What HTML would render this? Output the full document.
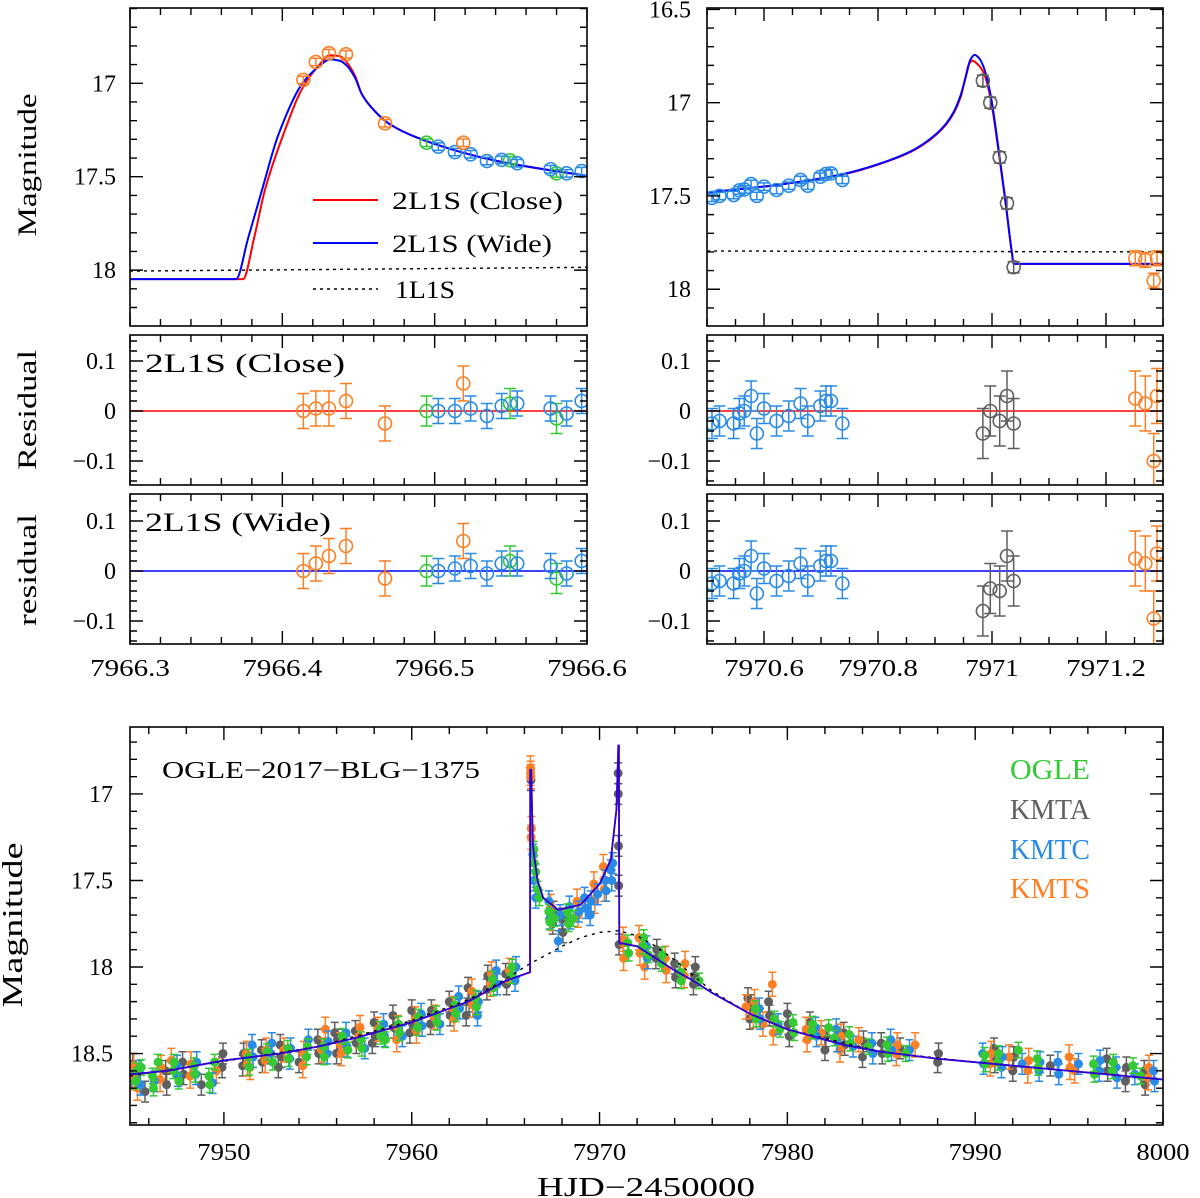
<!DOCTYPE html>
<html><head><meta charset="utf-8"><title>OGLE-2017-BLG-1375</title>
<style>html,body{margin:0;padding:0;background:#fff;}svg{display:block;font-family:"Liberation Serif","DejaVu Serif",serif;}</style>
</head><body>
<svg id="fig" width="1200" height="1198" viewBox="0 0 1200 1198" xmlns="http://www.w3.org/2000/svg"></svg>
<script>
// ---------- DATA ----------
const tlOgle = [[7966.4947,17.318],[7966.5495,17.412],[7966.58,17.482]];
const tlKmtc = [[7966.5024,17.339],[7966.5133,17.368],[7966.5236,17.38],[7966.5343,17.416],[7966.544,17.41],[7966.5542,17.428],[7966.5761,17.46],[7966.5866,17.482],[7966.5965,17.47]];
const tlKmts = [[7966.4138,16.982],[7966.422,16.886],[7966.4306,16.839],[7966.4418,16.845],[7966.4674,17.214],[7966.5188,17.318]];
const tlResCloseOgle = [0,0.015,-0.015];
const tlResCloseKmtc = [0,0,0.005,-0.01,0.01,0.015,0.005,-0.005,0.02];
const tlResCloseKmts = [0,0.005,0.005,0.02,-0.025,0.055];
const tlResWideOgle = [0,0.02,-0.015];
const tlResWideKmtc = [0,0.005,0.01,-0.005,0.015,0.015,0.01,-0.005,0.02];
const tlResWideKmts = [0,0.015,0.03,0.05,-0.015,0.06];
const tlModelClose = [[7966.3,18.048],[7966.3742,18.048],[7966.3814,17.83],[7966.3886,17.57],[7966.4004,17.28],[7966.4136,17.02],[7966.4234,16.91],[7966.4313,16.85],[7966.4379,16.855],[7966.4425,16.89],[7966.4477,16.96],[7966.4523,17.06],[7966.4608,17.15],[7966.4707,17.22],[7966.4969,17.316],[7966.5409,17.416],[7966.6,17.496]];
const tlModelWide = [[7966.3,18.048],[7966.3696,18.048],[7966.3775,17.83],[7966.3867,17.57],[7966.3972,17.28],[7966.4136,16.995],[7966.4234,16.914],[7966.4313,16.872],[7966.4379,16.88],[7966.4425,16.907],[7966.4477,16.97],[7966.4523,17.06],[7966.4608,17.15],[7966.4707,17.22],[7966.4969,17.316],[7966.5409,17.416],[7966.6,17.496]];
const tl1L1S = [[7966.3,18.005],[7966.6,17.985]];
const trKmtcT = [7970.5087,7970.522,7970.5467,7970.5567,7970.5654,7970.5774,7970.5874,7970.6,7970.622,7970.6434,7970.6641,7970.6768,7970.6988,7970.7088,7970.7175,7970.7375];
const trKmtcM = [17.51,17.50,17.495,17.47,17.465,17.436,17.5,17.45,17.468,17.445,17.414,17.445,17.397,17.382,17.379,17.414];
const trKmtaT = [7970.984,7970.997,7971.0135,7971.0263,7971.038];
const trKmtaM = [16.882,17.0,17.293,17.539,17.882];
const trKmtsT = [7971.2514,7971.269,7971.2837,7971.2895];
const trKmtsM = [17.834,17.843,17.954,17.834];
const trResCloseKmtc = [-0.025,-0.02,-0.025,-0.005,0,0.03,-0.045,0.005,-0.02,-0.01,0.015,-0.02,0.01,0.02,0.02,-0.025];
const trResCloseKmta = [-0.045,0,-0.02,0.03,-0.025];
const trResCloseKmts = [0.025,0.015,-0.1,0.03];
const trResWideKmtc = [-0.025,-0.02,-0.025,-0.005,0,0.03,-0.045,0.005,-0.02,-0.01,0.015,-0.02,0.01,0.02,0.02,-0.025];
const trResWideKmta = [-0.08,-0.035,-0.04,0.03,-0.02];
const trResWideKmts = [0.025,0.015,-0.095,0.035];
const trModelWide = [[7970.5,17.482],[7970.6228,17.441],[7970.7398,17.382],[7970.80,17.33],[7970.8567,17.262],[7970.88,17.22],[7970.9035,17.164],[7970.92,17.11],[7970.9328,17.05],[7970.945,16.96],[7970.955,16.85],[7970.962,16.77],[7970.9696,16.744],[7970.977,16.76],[7970.9854,16.81],[7970.997,16.95],[7971.0117,17.253],[7971.0234,17.521],[7971.035,17.807],[7971.038,17.864],[7971.3,17.864]];
const trModelClose = [[7970.5,17.482],[7970.6228,17.441],[7970.7398,17.384],[7970.80,17.332],[7970.8567,17.265],[7970.88,17.224],[7970.9035,17.168],[7970.92,17.115],[7970.9328,17.056],[7970.945,16.97],[7970.953,16.87],[7970.96,16.79],[7970.966,16.775],[7970.975,16.795],[7970.9854,16.84],[7970.997,16.97],[7971.0117,17.265],[7971.0234,17.53],[7971.035,17.807],[7971.038,17.864],[7971.3,17.864]];
const tr1L1S = [[7970.5,17.795],[7971.3,17.8]];
const bOgle = [[7945.3,18.66],[7945.6,18.58],[7946.2,18.63],[7946.5,18.55],[7947.3,18.60],[7947.6,18.66],[7948.4,18.57],[7949.2,18.63],[7949.5,18.55],[7951.3,18.52],[7952.3,18.49],[7952.6,18.55],[7953.4,18.47],[7954.4,18.52],[7955.3,18.46],[7956.3,18.40],[7956.6,18.48],[7957.3,18.42],[7958.3,18.36],[7958.6,18.42],[7959.3,18.33],[7960.3,18.35],[7961.3,18.27],[7962.3,18.22],[7963.4,18.18],[7964.3,18.07],[7965.3,18.05],[7966.5,17.32],[7966.6,17.45],[7966.8,17.6],[7967.3,17.68],[7967.6,17.72],[7968.3,17.68],[7968.6,17.72],[7971.5,17.86],[7972.3,17.88],[7972.6,17.93],[7973.3,17.98],[7974.3,18.03],[7975.3,18.08],[7978.3,18.24],[7979.3,18.3],[7979.6,18.36],[7980.3,18.32],[7981.3,18.37],[7982.2,18.35],[7982.5,18.41],[7983.3,18.39],[7984.3,18.46],[7985.3,18.45],[7986.3,18.5],[7990.5,18.51],[7991.2,18.55],[7992.3,18.48],[7993.3,18.53],[7996.3,18.56],[7997.3,18.6],[7998.4,18.57],[7998.8,18.63],
[7945.35,18.6],[7946.25,18.7],[7947.35,18.55],[7948.45,18.62],[7949.25,18.68],[7951.35,18.58],[7953.45,18.53],[7954.45,18.46],[7955.35,18.52],[7957.35,18.47],[7958.35,18.4],[7959.35,18.38],[7960.35,18.29],[7961.35,18.32],[7962.35,18.27],[7963.45,18.23],[7964.35,18.12],[7965.35,18.0],[7966.52,17.4],[7966.7,17.55],[7967.35,17.74],[7968.35,17.75],[7971.55,17.92],[7972.35,17.83],[7973.35,17.93],[7974.35,18.08],[7978.35,18.3],[7980.35,18.38],[7981.35,18.33],[7983.35,18.44],[7985.35,18.5],[7990.55,18.56],[7991.25,18.5],[7993.35,18.58],[7996.35,18.62],[7997.35,18.55]];
const bKmta = [[7945.1,18.64],[7945.8,18.72],[7946.9,18.60],[7947.8,18.55],[7948.8,18.68],[7949.9,18.58],[7951.0,18.57],[7952.0,18.48],[7952.9,18.58],[7953.0,18.45],[7954.0,18.55],[7955.0,18.42],[7955.9,18.38],[7956.0,18.5],[7957.0,18.37],[7957.9,18.44],[7958.0,18.32],[7959.0,18.28],[7959.9,18.38],[7960.0,18.25],[7961.0,18.33],[7962.0,18.2],[7962.9,18.28],[7963.0,18.12],[7964.0,18.13],[7965.0,18.04],[7966.35,16.92],[7967.5,17.75],[7968.0,17.72],[7970.99,16.88],[7970.997,17.0],[7971.01,17.3],[7971.02,17.53],[7971.04,17.87],[7973.0,17.95],[7974.0,17.98],[7975.0,18.1],[7975.1,18.0],[7977.9,18.18],[7978.0,18.3],[7979.0,18.2],[7980.0,18.27],[7980.1,18.4],[7981.2,18.32],[7982.0,18.48],[7983.0,18.38],[7984.0,18.52],[7985.0,18.44],[7986.0,18.47],[7988.0,18.55],[7991.0,18.47],[7992.0,18.6],[7994.0,18.57],[7997.0,18.53],[7998.0,18.66],[7999.0,18.6],
[7945.15,18.56],[7946.95,18.68],[7947.85,18.62],[7949.95,18.5],[7951.05,18.5],[7952.05,18.55],[7953.05,18.52],[7955.05,18.5],[7956.05,18.42],[7957.05,18.44],[7958.05,18.4],[7959.05,18.35],[7960.05,18.33],[7961.05,18.25],[7962.05,18.28],[7963.05,18.2],[7964.05,18.05],[7965.05,18.1],[7967.55,17.68],[7968.05,17.8],[7973.05,17.9],[7974.05,18.06],[7975.05,18.05],[7978.05,18.22],[7979.05,18.28],[7980.05,18.33],[7982.05,18.4],[7983.05,18.45],[7984.05,18.43],[7985.05,18.5],[7988.05,18.5],[7991.05,18.55],[7992.05,18.52],[7997.05,18.6],[7998.05,18.58],[7999.05,18.68]];
const bKmtc = [[7945.5,18.6],[7946.3,18.66],[7947.5,18.57],[7948.5,18.62],[7949.4,18.67],[7951.5,18.45],[7952.5,18.5],[7953.5,18.53],[7954.5,18.42],[7955.5,18.5],[7956.5,18.38],[7957.5,18.47],[7958.5,18.33],[7959.5,18.4],[7960.5,18.27],[7961.5,18.33],[7962.5,18.17],[7963.5,18.28],[7964.5,18.02],[7965.5,18.08],[7966.45,17.35],[7967.3,17.62],[7967.8,17.85],[7968.4,17.65],[7969.2,17.6],[7969.5,17.7],[7970.3,17.5],[7970.6,17.44],[7970.7,17.4],[7972.5,17.88],[7978.5,18.24],[7979.5,18.33],[7981.5,18.35],[7982.6,18.36],[7983.5,18.46],[7984.5,18.44],[7985.5,18.42],[7986.5,18.48],[7990.4,18.5],[7991.4,18.58],[7992.5,18.56],[7993.4,18.6],[7994.4,18.55],[7995.5,18.56],[7996.6,18.6],[7997.5,18.58],[7998.5,18.62],[7999.5,18.6],
[7945.55,18.68],[7947.55,18.63],[7948.55,18.55],[7951.55,18.52],[7952.55,18.44],[7953.55,18.47],[7955.55,18.43],[7956.55,18.46],[7958.55,18.4],[7960.55,18.34],[7962.55,18.24],[7963.55,18.2],[7964.55,18.1],[7965.55,18.0],[7966.5,17.5],[7966.6,17.6],[7967.35,17.72],[7967.9,17.7],[7968.45,17.72],[7968.9,17.68],[7969.25,17.66],[7969.55,17.62],[7969.9,17.58],[7970.35,17.56],[7970.65,17.5],[7972.55,17.95],[7978.55,18.3],[7981.55,18.4],[7982.65,18.43],[7984.55,18.5],[7985.55,18.48],[7990.45,18.56],[7991.45,18.52],[7993.45,18.55],[7994.45,18.62],[7996.65,18.54],[7997.55,18.64],[7999.55,18.66]];
const bKmts = [[7945.2,18.57],[7945.4,18.7],[7946.6,18.65],[7947.2,18.54],[7948.2,18.63],[7949.6,18.6],[7951.2,18.5],[7951.4,18.58],[7952.2,18.54],[7953.2,18.48],[7954.2,18.57],[7955.2,18.48],[7955.4,18.36],[7956.2,18.45],[7957.2,18.4],[7958.2,18.36],[7959.2,18.42],[7960.2,18.3],[7961.2,18.29],[7962.2,18.24],[7963.2,18.14],[7964.2,18.1],[7965.2,18.02],[7966.32,16.85],[7966.34,16.9],[7966.37,17.2],[7967.4,17.65],[7968.8,17.62],[7969.7,17.52],[7970.2,17.42],[7971.25,17.84],[7971.28,17.95],[7972.1,17.83],[7972.4,18.0],[7973.5,17.95],[7974.5,18.05],[7977.8,18.23],[7978.2,18.28],[7978.7,18.33],[7979.2,18.1],[7981.0,18.36],[7981.8,18.38],[7982.8,18.48],[7983.8,18.42],[7985.8,18.5],[7986.8,18.45],[7990.8,18.56],[7991.8,18.52],[7992.8,18.6],[7995.0,18.52],[7995.3,18.6],[7999.2,18.64],
[7945.25,18.64],[7946.65,18.58],[7948.25,18.56],[7951.25,18.56],[7952.25,18.48],[7954.25,18.5],[7956.25,18.5],[7957.25,18.35],[7959.25,18.35],[7960.25,18.37],[7962.25,18.3],[7963.25,18.22],[7964.25,18.04],[7966.33,16.88],[7966.36,17.25],[7967.45,17.72],[7968.85,17.7],[7969.75,17.62],[7970.25,17.55],[7972.15,17.92],[7973.55,18.02],[7974.55,17.98],[7978.25,18.2],[7979.25,18.38],[7981.05,18.42],[7982.85,18.4],[7985.85,18.45],[7990.85,18.5],[7992.85,18.54],[7995.05,18.58],[7999.25,18.58]];
const bModel = [[7945,18.62],[7947,18.6],[7950,18.54],[7953,18.5],[7955,18.46],[7957,18.41],[7960,18.32],[7962,18.24],[7963,18.2],[7964,18.14],[7965,18.08],[7966.3,18.03],[7966.31,16.86],[7966.36,16.86],[7966.45,17.3],[7966.7,17.5],[7967,17.6],[7967.8,17.67],[7969,17.64],[7970,17.52],[7970.6,17.38],[7970.9,17.09],[7971.0,16.72],[7971.03,16.72],[7971.05,17.86],[7972,17.88],[7973,17.95],[7974,18.02],[7975,18.08],[7976,18.15],[7978,18.27],[7980,18.36],[7981,18.39],[7983,18.45],[7985,18.49],[7988,18.53],[7990,18.55],[7995,18.6],[8000,18.65]];
const b1L1S = [[7945,18.63],[7955,18.46],[7960,18.31],[7963,18.19],[7965,18.07],[7966.3,17.98],[7967,17.94],[7968,17.88],[7969,17.83],[7970,17.8],[7971,17.79],[7972,17.82],[7973,17.88],[7974,17.96],[7975,18.05],[7976,18.14],[7978,18.27],[7980,18.36],[7985,18.49],[7990,18.55],[7995,18.6],[8000,18.65]];
const tlXLabels = ["7966.3","7966.4","7966.5","7966.6"];
const tlXVals = [7966.3,7966.4,7966.5,7966.6];
const trXLabels = ["7970.6","7970.8","7971","7971.2"];
const trXVals = [7970.6,7970.8,7971,7971.2];
const tlYVals = [17,17.5,18];
const tlYLabels = ["17","17.5","18"];
const trYVals = [16.5,17,17.5,18];
const trYLabels = ["16.5","17","17.5","18"];
const resYVals = [0.1,0,-0.1];
const resYLabels = ["0.1","0","\u22120.1"];
const bXVals = [7950,7960,7970,7980,7990,8000];
const bXLabels = ["7950","7960","7970","7980","7990","8000"];
const bYVals = [17,17.5,18,18.5];
const bYLabels = ["17","17.5","18","18.5"];

// ---------- DRAWING ----------
const NS='http://www.w3.org/2000/svg';
const svg=document.getElementById('fig');
const C={ogle:'#35c935',kmta:'#5f5f5f',kmtc:'#2a8be6',kmts:'#ff7f24',red:'#ff0000',blue:'#0000ff'};
function mk(tag,parent){const e=document.createElementNS(NS,tag);parent.appendChild(e);return e;}
function set(e,k,v){e.setAttribute(k,v);}
let clipN=0;
function panel(p,name){
  p.x=t=>p.x0+(t-p.t0)/(p.t1-p.t0)*(p.x1-p.x0);
  p.y=m=>p.y0+(m-p.m0)/(p.m1-p.m0)*(p.y1-p.y0);
  const g=mk('g',svg);
  
  
  const cp=mk('clipPath',g);set(cp,'id','cp'+(++clipN));
  const r=mk('rect',cp);set(r,'x',p.x0);set(r,'y',p.y0);set(r,'width',p.x1-p.x0);set(r,'height',p.y1-p.y0);
  p.g=g;
  p.plot=mk('g',g);set(p.plot,'clip-path','url(#cp'+clipN+')');
  
  
  return p;
}
function frame(p,xMinor,xMajor,yMinor,yMajor){
  const g=mk('g',p.g);
  
  
  const f=mk('rect',g);set(f,'x',p.x0);set(f,'y',p.y0);set(f,'width',p.x1-p.x0);set(f,'height',p.y1-p.y0);set(f,'fill','none');set(f,'stroke','#000');set(f,'stroke-width',1.6);
  let d='';
  const lo=Math.min(p.t0,p.t1),hi=Math.max(p.t0,p.t1);
  for(let k=Math.ceil(lo/xMinor-1e-6);k*xMinor<=hi+1e-9;k++){const v=k*xMinor;const maj=Math.abs(v/xMajor-Math.round(v/xMajor))<1e-4;const L=maj?13:7;const x=p.x(v);d+=`M${x},${p.y1}v${-L}M${x},${p.y0}v${L}`;}
  const ylo=Math.min(p.m0,p.m1),yhi=Math.max(p.m0,p.m1);
  for(let k=Math.ceil(ylo/yMinor-1e-6);k*yMinor<=yhi+1e-9;k++){const v=k*yMinor;const maj=Math.abs(v/yMajor-Math.round(v/yMajor))<1e-4;const L=maj?13:7;const y=p.y(v);d+=`M${p.x0},${y}h${L}M${p.x1},${y}h${-L}`;}
  const pa=mk('path',g);set(pa,'d',d);set(pa,'stroke','#000');set(pa,'stroke-width',1.4);set(pa,'fill','none');
}
function text(parent,x,y,str,size,anchor,fill,len){
  const t=mk('text',parent);set(t,'x',x);set(t,'y',y);set(t,'font-size',size);set(t,'text-anchor',anchor||'start');set(t,'fill',fill||'#000');
  if(len){set(t,'textLength',len);set(t,'lengthAdjust','spacingAndGlyphs');}
  t.textContent=str;return t;
}
function yLabels(p,vals,labels,xr){
  for(let i=0;i<vals.length;i++){
    const t=text(p.g,xr,p.y(vals[i])+8,labels[i],24,'end');
    
    
  }
}
function xLabels(p,vals,labels,y){
  for(let i=0;i<vals.length;i++){
    const t=text(p.g,p.x(vals[i]),y,labels[i],24,'middle',null,labels[i].length*13.3);
    
    
  }
}
function line(p,pts,color,w,dash,name,smooth){
  const pa=mk('path',p.plot);
  
  
  const X=pts.map(q=>p.x(q[0])),Y=pts.map(q=>p.y(q[1]));
  const n=X.length;
  let d='M'+X[0].toFixed(2)+','+Y[0].toFixed(2);
  if(smooth&&n>2){
    // monotone cubic (Fritsch-Carlson style) to avoid overshoot
    const h=[],s=[];
    for(let i=0;i<n-1;i++){h.push(X[i+1]-X[i]);s.push((Y[i+1]-Y[i])/(X[i+1]-X[i]));}
    const m=new Array(n);
    m[0]=s[0];m[n-1]=s[n-2];
    for(let i=1;i<n-1;i++){
      if(s[i-1]*s[i]<=0)m[i]=0;
      else m[i]=3*(h[i-1]+h[i])/((2*h[i]+h[i-1])/s[i-1]+(h[i]+2*h[i-1])/s[i]);
    }
    if(s[0]===0)m[0]=0;if(s[n-2]===0)m[n-1]=0;
    for(let i=0;i<n-1;i++){
      const c1x=X[i]+h[i]/3,c1y=Y[i]+m[i]*h[i]/3,c2x=X[i+1]-h[i]/3,c2y=Y[i+1]-m[i+1]*h[i]/3;
      d+=`C${c1x.toFixed(2)},${c1y.toFixed(2)} ${c2x.toFixed(2)},${c2y.toFixed(2)} ${X[i+1].toFixed(2)},${Y[i+1].toFixed(2)}`;
    }
  } else {
    for(let i=1;i<n;i++)d+='L'+X[i].toFixed(2)+','+Y[i].toFixed(2);
  }
  set(pa,'d',d);
  set(pa,'fill','none');set(pa,'stroke',color);set(pa,'stroke-width',w);
  if(dash)set(pa,'stroke-dasharray',dash);
}
function point(p,t,m,err,color,filled,r,cap,name){
  const g=mk('g',p.plot);
  
  
  const x=p.x(t),y1=p.y(m-err),y2=p.y(m+err),y=p.y(m);
  const e=mk('path',g);set(e,'d',`M${x},${y1}V${y2}M${x-cap},${y1}h${2*cap}M${x-cap},${y2}h${2*cap}`);set(e,'stroke',color);set(e,'stroke-width',1.5);set(e,'fill','none');
  const c=mk('circle',g);set(c,'cx',x);set(c,'cy',y);set(c,'r',r);
  if(filled){set(c,'fill',color);}else{set(c,'fill','none');set(c,'stroke',color);set(c,'stroke-width',1.6);}
}
function pairs(p,arr,err,color,filled,r,cap,name){arr.forEach(q=>point(p,q[0],q[1],err,color,filled,r,cap,name));}
function lists(p,ts,ms,err,color,r,cap,name){ts.forEach((t,i)=>point(p,t,ms[i],err,color,false,r,cap,name));}

const PL=panel({x0:130,x1:587,y0:8,y1:326,t0:7966.3,t1:7966.6,m0:16.597,m1:18.299},'top-left-magnitude-panel');
line(PL,tl1L1S,'#000',1.4,'3,4','model-1l1s-line');
line(PL,tlModelClose,C.red,2,null,'model-close-line',true);
line(PL,tlModelWide,C.blue,2,null,'model-wide-line',true);
pairs(PL,tlOgle,0.02,C.ogle,false,6.5,6,'ogle-point');
pairs(PL,tlKmtc,0.02,C.kmtc,false,6.5,6,'kmtc-point');
pairs(PL,tlKmts,0.02,C.kmts,false,6.5,6,'kmts-point');
frame(PL,0.02,0.1,0.1,0.5);
yLabels(PL,tlYVals,tlYLabels,116);
(function(){
  const g=mk('g',svg);
  
  
  const items=[[200,C.red,null,'2L1S (Close)',392,171],[243,C.blue,null,'2L1S (Wide)',392,160],[289,'#000','3,4','1L1S',395,60]];
  items.forEach(it=>{
    const l=mk('line',g);set(l,'x1',313);set(l,'x2',378);set(l,'y1',it[0]);set(l,'y2',it[0]);set(l,'stroke',it[1]);set(l,'stroke-width',it[2]?1.4:2);if(it[2])set(l,'stroke-dasharray',it[2]);
    
    
    const t=text(g,it[4],it[0]+9,it[3],25,'start',null,it[5]);
    
    
  });
})();

const PR=panel({x0:707,x1:1163,y0:8,y1:326,t0:7970.5,t1:7971.3,m0:16.4925,m1:18.197},'top-right-magnitude-panel');
line(PR,tr1L1S,'#000',1.4,'3,4','model-1l1s-line');
line(PR,trModelClose,C.red,2,null,'model-close-line',true);
line(PR,trModelWide,C.blue,2,null,'model-wide-line',true);
lists(PR,trKmtcT,trKmtcM,0.02,C.kmtc,6.5,6,'kmtc-point');
lists(PR,trKmtaT,trKmtaM,0.03,C.kmta,6.5,6,'kmta-point');
lists(PR,trKmtsT,trKmtsM,0.04,C.kmts,6.5,6,'kmts-point');
frame(PR,0.05,0.2,0.1,0.5);
yLabels(PR,trYVals,trYLabels,691);

function resPanel(p,name,color,sets,lbl,lblLen){
  panel(p,name);
  const z=mk('line',p.plot);set(z,'x1',p.x0);set(z,'x2',p.x1);set(z,'y1',p.y(0));set(z,'y2',p.y(0));set(z,'stroke',color);set(z,'stroke-width',1.6);
  
  
  sets.forEach(s=>{s.t.forEach((t,i)=>point(p,t,s.r[i],s.e,s.c,false,6.5,6,s.n));});
  frame(p,p.xminor,p.xmajor,0.02,0.1);
  if(lbl){const t=text(p.g,145,p.y0+37,lbl,26,'start',null,lblLen);
    
    }
  return p;
}
const tlOT=tlOgle.map(q=>q[0]),tlCT=tlKmtc.map(q=>q[0]),tlST=tlKmts.map(q=>q[0]);
const RL1=resPanel({x0:130,x1:587,y0:335,y1:485,t0:7966.3,t1:7966.6,m0:0.152,m1:-0.148,xminor:0.02,xmajor:0.1},'top-left-close-residual-panel',C.red,
  [{t:tlOT,r:tlResCloseOgle,e:0.03,c:C.ogle,n:'ogle-residual'},{t:tlCT,r:tlResCloseKmtc,e:0.025,c:C.kmtc,n:'kmtc-residual'},{t:tlST,r:tlResCloseKmts,e:0.035,c:C.kmts,n:'kmts-residual'}],'2L1S (Close)',200);
const RL2=resPanel({x0:130,x1:587,y0:494,y1:644,t0:7966.3,t1:7966.6,m0:0.154,m1:-0.146,xminor:0.02,xmajor:0.1},'top-left-wide-residual-panel',C.blue,
  [{t:tlOT,r:tlResWideOgle,e:0.03,c:C.ogle,n:'ogle-residual'},{t:tlCT,r:tlResWideKmtc,e:0.025,c:C.kmtc,n:'kmtc-residual'},{t:tlST,r:tlResWideKmts,e:0.035,c:C.kmts,n:'kmts-residual'}],'2L1S (Wide)',186);
const RR1=resPanel({x0:707,x1:1163,y0:335,y1:485,t0:7970.5,t1:7971.3,m0:0.152,m1:-0.148,xminor:0.05,xmajor:0.2},'top-right-close-residual-panel',C.red,
  [{t:trKmtcT,r:trResCloseKmtc,e:0.03,c:C.kmtc,n:'kmtc-residual'},{t:trKmtaT,r:trResCloseKmta,e:0.05,c:C.kmta,n:'kmta-residual'},{t:trKmtsT,r:trResCloseKmts,e:0.055,c:C.kmts,n:'kmts-residual'}],null);
const RR2=resPanel({x0:707,x1:1163,y0:494,y1:644,t0:7970.5,t1:7971.3,m0:0.154,m1:-0.146,xminor:0.05,xmajor:0.2},'top-right-wide-residual-panel',C.blue,
  [{t:trKmtcT,r:trResWideKmtc,e:0.03,c:C.kmtc,n:'kmtc-residual'},{t:trKmtaT,r:trResWideKmta,e:0.05,c:C.kmta,n:'kmta-residual'},{t:trKmtsT,r:trResWideKmts,e:0.055,c:C.kmts,n:'kmts-residual'}],null);
yLabels(RL1,resYVals,resYLabels,116);yLabels(RL2,resYVals,resYLabels,116);
yLabels(RR1,resYVals,resYLabels,691);yLabels(RR2,resYVals,resYLabels,691);
xLabels(RL2,tlXVals,tlXLabels,676);
xLabels(RR2,trXVals,trXLabels,676);

const B=panel({x0:130,x1:1163,y0:727,y1:1125,t0:7945,t1:8000,m0:16.613,m1:18.913},'full-light-curve-panel');
pairs(B,bKmta,0.06,C.kmta,true,4.5,4,'kmta-point');
pairs(B,bKmts,0.07,C.kmts,true,4.5,4,'kmts-point');
pairs(B,bKmtc,0.06,C.kmtc,true,4.5,4,'kmtc-point');
pairs(B,bOgle,0.045,C.ogle,true,4.5,4,'ogle-point');
line(B,b1L1S,'#000',1.4,'3,5','model-1l1s-line');
line(B,bModel,C.red,1.6,null,'model-close-line');
line(B,bModel,'#2a00d8',1.8,null,'model-wide-line');
frame(B,2,10,0.1,0.5);
yLabels(B,bYVals,bYLabels,113);
xLabels(B,bXVals,bXLabels,1160);
(function(){
  const t=text(B.g,162,778,'OGLE\u22122017\u2212BLG\u22121375',24,'start',null,318);
  
  
  const leg=[['OGLE',C.ogle,779],['KMTA',C.kmta,819],['KMTC',C.kmtc,859],['KMTS',C.kmts,898]];
  leg.forEach(l=>{const e=text(B.g,1010,l[2],l[0],28,'start',l[1],80);
    
    });
})();

(function(){
  const titles=[[36,165,'Magnitude',143,26],[36,410,'Residual',120,26],[36,570,'residual',112,26],[22,925,'Magnitude',165,28]];
  titles.forEach(a=>{const t=text(svg,0,0,a[2],a[4],'middle',null,a[3]);set(t,'transform',`translate(${a[0]},${a[1]}) rotate(-90)`);
    
    });
  const xt=text(svg,646,1196,'HJD\u22122450000',27,'middle',null,218);
  
  
})();
</script>
</body></html>
